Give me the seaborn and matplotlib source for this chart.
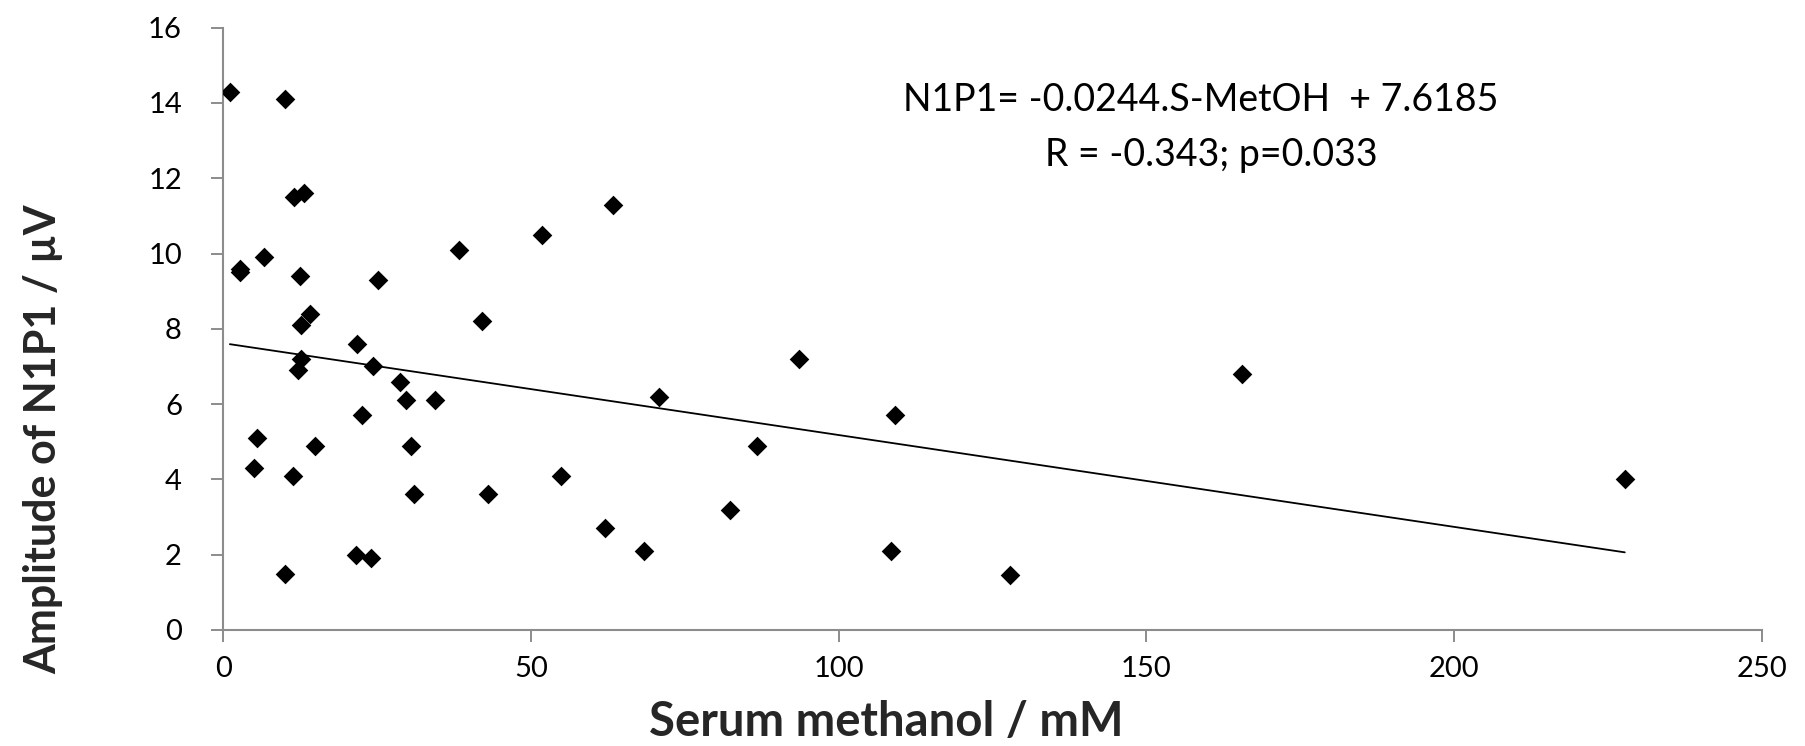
import numpy as np
import pandas as pd
import matplotlib
matplotlib.use("Agg")
import matplotlib.pyplot as plt
import seaborn as sns

# Data
serum_methanol = [1.1, 10.1, 11.5, 13.2, 2.7, 2.8, 6.6, 12.5, 25.2, 38.4,
                  51.8, 63.3, 42.0, 14.1, 12.7, 21.8, 12.6, 12.2, 24.4, 28.7,
                  29.7, 34.4, 22.5, 5.5, 14.9, 30.6, 5.0, 11.3, 31.0, 43.1,
                  54.9, 21.6, 24.1, 10.1, 93.6, 70.8, 109.1, 86.7, 82.3, 62.1,
                  68.3, 108.5, 127.8, 165.6, 227.7]
amplitude_n1p1 = [14.3, 14.1, 11.5, 11.6, 9.5, 9.6, 9.9, 9.4, 9.3, 10.1,
                  10.5, 11.3, 8.2, 8.4, 8.1, 7.6, 7.2, 6.9, 7.0, 6.6,
                  6.1, 6.1, 5.7, 5.1, 4.9, 4.9, 4.3, 4.1, 3.6, 3.6,
                  4.1, 2.0, 1.9, 1.5, 7.2, 6.2, 5.7, 4.9, 3.2, 2.7,
                  2.1, 2.1, 1.45, 6.8, 4.0]
trend_slope = -0.0244
trend_intercept = 7.6185
x_ticks = [0, 50, 100, 150, 200, 250]
y_ticks = [0, 2, 4, 6, 8, 10, 12, 14, 16]
equation_text = "N1P1= -0.0244.S-MetOH  + 7.6185"
stats_text = "R = -0.343; p=0.033"
x_label = "Serum methanol / mM"
y_label = "Amplitude of N1P1 / µV"

df = pd.DataFrame({"x": serum_methanol, "y": amplitude_n1p1})

sns.set_theme(style="white")
plt.rcParams["font.family"] = ["Lato", "DejaVu Sans"]

fig = plt.figure(figsize=(18.05, 7.46), dpi=100)
ax = fig.add_axes([0.1236, 0.1555, 0.8526, 0.8075])

sns.scatterplot(data=df, x="x", y="y", marker="D", s=100, color="black",
                linewidth=0, ax=ax, zorder=3)

xs = np.array([min(serum_methanol), max(serum_methanol)])
sns.lineplot(x=xs, y=trend_slope * xs + trend_intercept, color="black",
             linewidth=1.3, ax=ax, zorder=2)

ax.set_xlim(x_ticks[0], x_ticks[-1])
ax.set_ylim(y_ticks[0], y_ticks[-1])
ax.set_xticks(x_ticks)
ax.set_yticks(y_ticks)

gray = "#8c8c8c"
for side in ["top", "right"]:
    ax.spines[side].set_visible(False)
for side in ["left", "bottom"]:
    ax.spines[side].set_color(gray)
    ax.spines[side].set_linewidth(1.5)

ax.tick_params(axis="both", which="major", direction="out", length=8.6,
               width=1.4, color=gray, labelsize=21, labelcolor="black")
ax.tick_params(axis="y", pad=21)
ax.tick_params(axis="x", pad=10)
ax.tick_params(left=True, bottom=True)

ax.set_xlabel(x_label, fontsize=34, fontweight="bold", va="center")
ax.set_ylabel(y_label, fontsize=31, fontweight="bold", va="center")
ax.xaxis.set_label_coords(0.431, -0.153)
ax.yaxis.set_label_coords(-0.117, 0.317)

ax.text(0.635, 0.880, equation_text, transform=ax.transAxes, ha="center",
        va="center", fontsize=27, color="black")
ax.text(0.642, 0.789, stats_text, transform=ax.transAxes, ha="center",
        va="center", fontsize=27, color="black")

ax.grid(False)
fig.savefig("out.png", dpi=100, facecolor="white")
